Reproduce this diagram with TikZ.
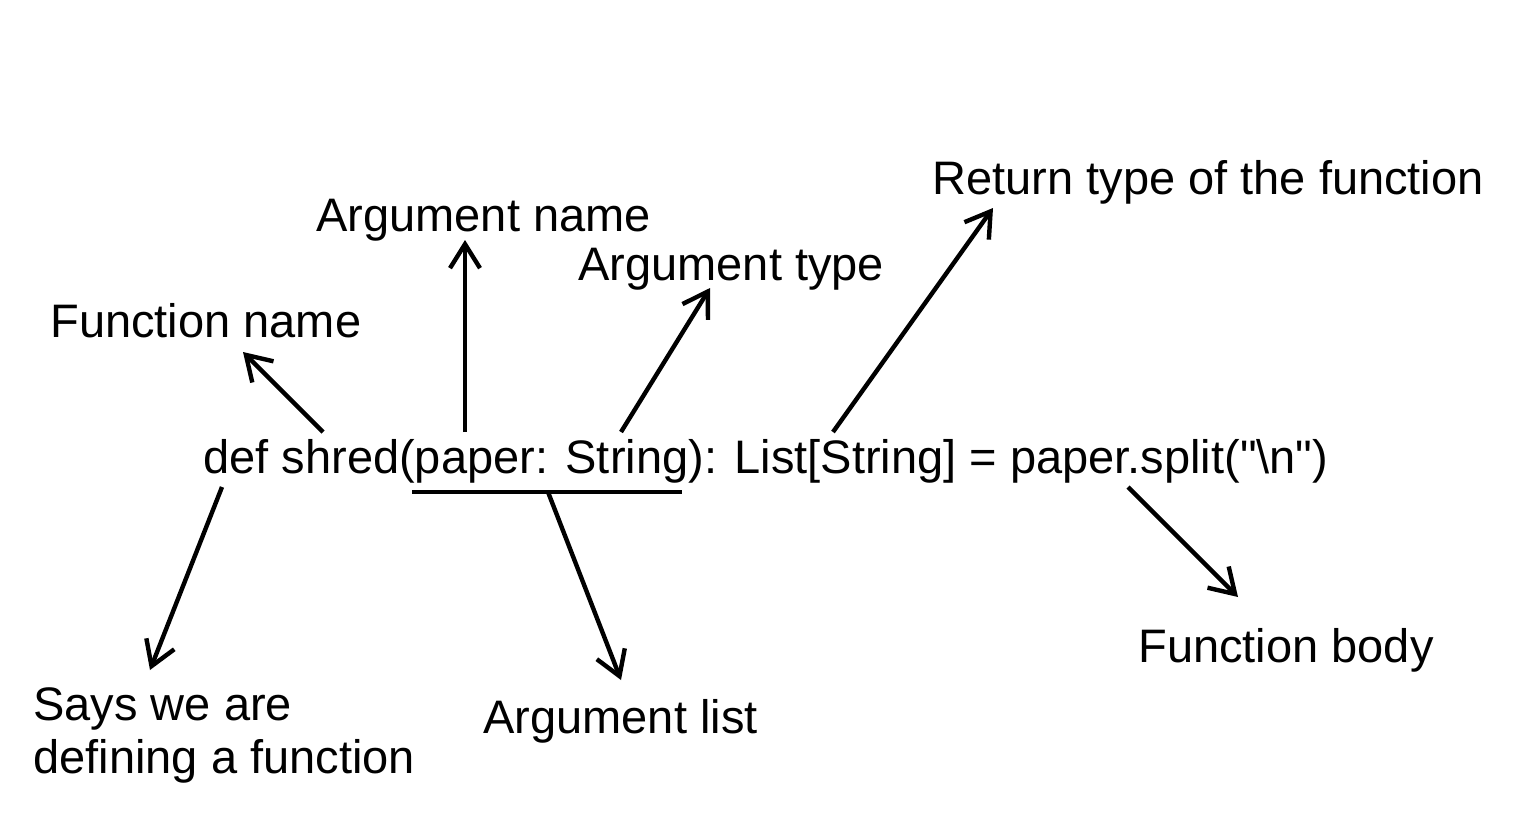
\documentclass[tikz,border=0pt]{standalone}
\usepackage{fontspec}
\setmainfont{Liberation Sans}
\newfontfamily\codefont{Liberation Sans}[Ligatures=ResetAll]
\usetikzlibrary{arrows.meta}

\tikzset{
    txt/.style={anchor=base west, inner sep=0pt, font=\fontsize{23.5}{28}\selectfont},
    pointer/.style={-{Straight Barb[length=12pt, width=15pt]}, line width=2.2pt}
}

\begin{document}
\begin{tikzpicture}[x=0.5pt, y=-0.5pt]
    \useasboundingbox (0,0) rectangle (1526,814);

    % the code line
    \node[txt, font=\fontsize{23.5}{28}\codefont] (code) at (203,473) {def shred(paper: String): List[String] = paper.split("\textbackslash n")};

    % labels
    \node[txt] (fname) at (50,337) {Function name};
    \node[txt] (argname) at (316,231) {Argument name};
    \node[txt] (argtype) at (578,280) {Argument type};
    \node[txt] (rettype) at (932,194) {Return type of the function};
    \node[txt] (defkw) at (33,720) {Says we are};
    \node[txt] (defkwb) at (33,773) {defining a function};
    \node[txt] (arglist) at (483,733) {Argument list};
    \node[txt] (fbody) at (1138,662) {Function body};

    % arrow ends
    \coordinate (s1) at (323,432); \coordinate (t1) at (243,352);
    \coordinate (s2) at (465,432); \coordinate (t2) at (465,240);
    \coordinate (s3) at (621,432); \coordinate (t3) at (710,288);
    \coordinate (s4) at (833,432); \coordinate (t4) at (993,208);
    \coordinate (s5) at (222,487); \coordinate (t5) at (150,670);
    \coordinate (s6) at (548,492); \coordinate (t6) at (621,680);
    \coordinate (s7) at (1128,487); \coordinate (t7) at (1238,597);
    \coordinate (ua) at (412,492); \coordinate (ub) at (682,492);

    \draw[line width=2.2pt] (ua) -- (ub); % underline of the argument list
    \draw[pointer] (s1) -- (t1);
    \draw[pointer] (s2) -- (t2);
    \draw[pointer] (s3) -- (t3);
    \draw[pointer] (s4) -- (t4);
    \draw[pointer] (s5) -- (t5);
    \draw[pointer] (s6) -- (t6);
    \draw[pointer] (s7) -- (t7);

\end{tikzpicture}
\end{document}
